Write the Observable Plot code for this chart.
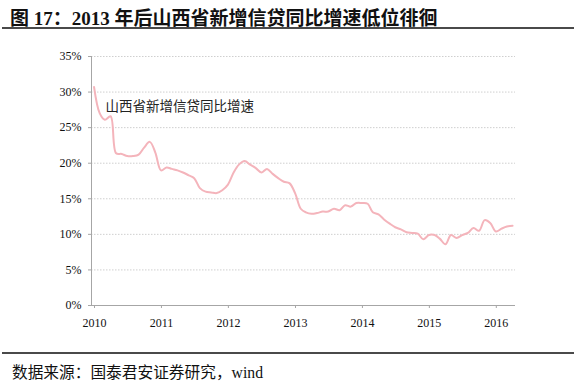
<!DOCTYPE html>
<html><head><meta charset="utf-8">
<script src="https://cdn.jsdelivr.net/npm/d3@7"></script>
<script src="https://cdn.jsdelivr.net/npm/@observablehq/plot@0.6"></script>
<style>
html,body{margin:0;padding:0;background:#fff;}
body{width:576px;height:388px;overflow:hidden;position:relative;font-family:"Liberation Serif","Noto Sans CJK SC",serif;}
#title{position:absolute;left:10px;top:3px;font-size:19px;font-weight:bold;color:#111;white-space:nowrap;font-family:"Liberation Serif","Noto Sans CJK SC",serif;}
.rule{position:absolute;left:2px;width:572px;height:2px;background:#4a4a4a;}
#chart{position:absolute;left:0;top:30px;}
#caption{position:absolute;left:12px;top:360px;font-size:15.7px;color:#111;white-space:nowrap;font-family:"Liberation Serif","Noto Sans CJK SC",serif;}
</style></head>
<body>
<div id="title">图 17：2013 年后山西省新增信贷同比增速低位徘徊</div>
<div class="rule" style="top:27px"></div>
<div id="chart"></div>
<div class="rule" style="top:352px"></div>
<div id="caption">数据来源：国泰君安证券研究，wind</div>
<script>
// Monthly year-on-year growth of new loans in Shanxi (%), Jan 2010 – Apr 2016
const startYear = 2010;
const growth2010 = [30.7, 27.0, 26.1, 26.6, 21.4, 21.3, 21.0, 21.0, 21.2, 22.2, 23.0, 21.5];
const growth2011 = [19.0, 19.4, 19.2, 19.0, 18.7, 18.3, 17.9, 16.5, 16.0, 15.9, 15.8, 16.2];
const growth2012 = [17.0, 18.7, 19.8, 20.3, 19.8, 19.3, 18.7, 19.2, 18.5, 17.9, 17.4, 17.2];
const growth2013 = [15.8, 13.6, 13.1, 12.9, 13.0, 13.2, 13.2, 13.6, 13.4, 14.1, 13.9, 14.4];
const growth2014 = [14.4, 14.3, 13.1, 12.8, 12.1, 11.5, 11.0, 10.7, 10.3, 10.2, 10.1, 9.3];
const growth2015 = [9.9, 9.9, 9.4, 8.6, 9.9, 9.5, 9.9, 10.2, 10.9, 10.5, 12.0, 11.6];
const growth2016 = [10.4, 10.8, 11.1, 11.2];
const seriesName = "山西省新增信贷同比增速";
const yearTickLabels = [2010, 2011, 2012, 2013, 2014, 2015, 2016];
const yTicks = [0, 5, 10, 15, 20, 25, 30, 35];

const allYears = [growth2010, growth2011, growth2012, growth2013, growth2014, growth2015, growth2016];
const data = [];
allYears.forEach((arr, yi) => arr.forEach((v, m) => data.push({date: new Date(Date.UTC(startYear + yi, m, 15)), value: v})));
const yearDates = yearTickLabels.map(y => new Date(Date.UTC(y, 0, 1)));

const axisColor = "#a6a6a6";
const chart = Plot.plot({
  width: 576, height: 316,
  marginLeft: 91, marginRight: 61, marginTop: 26, marginBottom: 41,
  style: {fontFamily: "'Liberation Serif', serif", fontSize: "12px", color: "#111", background: "transparent"},
  x: {type: "utc", domain: [new Date(Date.UTC(2010, 0, 1)), new Date(Date.UTC(2016, 4, 1))]},
  y: {domain: [0, 35]},
  marks: [
    Plot.gridY(yTicks.filter(d => d > 0), {stroke: "#cfcfcf", strokeOpacity: 1, strokeDasharray: "1.5,1.5", strokeWidth: 1}),
    Plot.axisY(yTicks, {tickSize: 3, tickPadding: 7, tickFormat: d => d + "%", label: null, stroke: axisColor, fontSize: 12}),
    Plot.axisX(yearDates, {tickSize: 3, tickPadding: 10, tickFormat: d => String(d.getUTCFullYear()), label: null, stroke: axisColor, dx: 3, fontSize: 12}),
    Plot.ruleX([0], {x: () => new Date(Date.UTC(2010, 0, 1)), stroke: axisColor}),
    Plot.ruleY([0], {stroke: axisColor}),
    Plot.line(data, {x: "date", y: "value", stroke: "#f4b4bb", strokeWidth: 2, curve: "catmull-rom"}),
    Plot.text([seriesName], {frameAnchor: "top-left", dx: 14, dy: 45, text: d => d, textAnchor: "start", fontSize: 13.5, fill: "#222", fontFamily: "'Noto Sans CJK SC', sans-serif"})
  ]
});
document.getElementById("chart").appendChild(chart);
</script>
</body></html>
